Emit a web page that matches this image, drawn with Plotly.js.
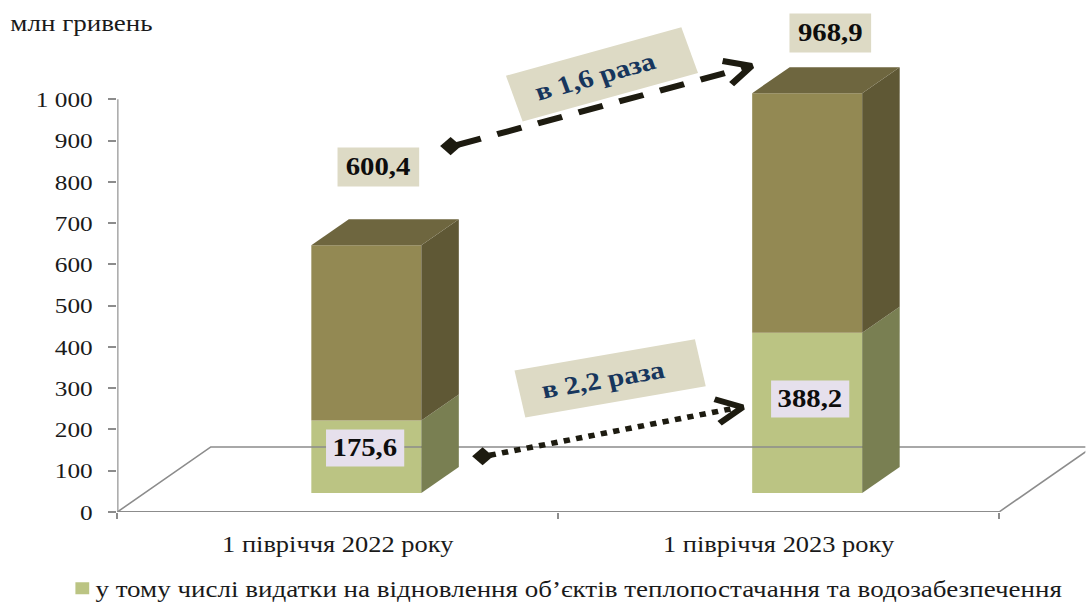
<!DOCTYPE html>
<html>
<head>
<meta charset="utf-8">
<script src="https://cdn.plot.ly/plotly-3.0.1.min.js"></script>
<style>
html,body{margin:0;padding:0;background:#fff;overflow:hidden}
#chart{transform-origin:0 0;}
.legend .legendpoints{transform:translateX(8.6px);}
</style>
</head>
<body>
<div id="chart"></div>
<script>
// ---- data ----
const categories = ['1 півріччя 2022 року', '1 півріччя 2023 року'];
const categoryCenters = [0.5, 1.5];
const recoveryValues = [175.6, 388.2];
const totalValues = [600.4, 968.9];
const valueTickVals = [0, 100, 200, 300, 400, 500, 600, 700, 800, 900, 1000];
const valueTickText = ['0', '100', '200', '300', '400', '500', '600', '700', '800', '900', '1 000'];
const legendLabel = 'у тому числі видатки на відновлення об’єктів теплопостачання та водозабезпечення';
const unitLabel = 'млн гривень';
const ratioTotal = 'в 1,6 раза';
const ratioRecovery = 'в 2,2 раза';

// ---- colours ----
const frontTop = '#938953', sideTop = '#5f5835', roofTop = '#6e663f';
const frontLow = '#bbc483', sideLow = '#797f52';
const axisColor = '#8c8c8c', boxFill = '#dddac5', boxFill2 = '#e6e0ec', arrowColor = '#1d1b10';
const serif = '"Liberation Serif"', textColor = '#1a1a1a';

// ---- layout geometry ----
const stretch = 1.15;                 // the reference picture is stretched sideways
const W = 1086 / stretch, H = 603;
const axisLeftPx = 117.7, axisBottomPx = 511.7, unitPx = 0.4124, catPx = 440.85;
const fx = p => (p - axisLeftPx) / catPx;
const fy = p => (axisBottomPx - p) / unitPx;
const floorDX = 93.5 / catPx, floorDY = 65 / unitPx;
const frontDX = 28.6 / catPx, frontDY = 19 / unitPx;
const barDX = 37.5 / catPx, barDY = 26 / unitPx;
const barW = 110 / catPx;

const chart = document.getElementById('chart');
chart.style.width = W + 'px';
chart.style.height = H + 'px';
chart.style.transform = 'scaleX(' + stretch + ')';

function poly(xs, ys, color) {
  return {type:'scatter', mode:'lines', x:xs.concat(xs[0]), y:ys.concat(ys[0]), fill:'toself',
    fillcolor:color, line:{width:0, color:color}, hoverinfo:'skip', showlegend:false};
}
function line(xs, ys, color, width, dash) {
  return {type:'scatter', mode:'lines', x:xs, y:ys, line:{color:color, width:width, dash:dash||'solid'},
    hoverinfo:'skip', showlegend:false};
}

const traces = [];
// floor outline + axis lines
traces.push(line([0, floorDX, 2 + floorDX], [0, floorDY, floorDY], axisColor, 1.5));
traces.push(line([2, 2 + floorDX], [0, floorDY], axisColor, 1.5));
traces.push(line([0, 2], [0, 0], axisColor, 2));
traces.push(line([0, 0], [0, 1000], axisColor, 2));

// side and roof faces
categoryCenters.forEach((c, i) => {
  const r = c + frontDX + barW / 2, l = c + frontDX - barW / 2;
  const low = recoveryValues[i] + frontDY, top = totalValues[i] + frontDY;
  traces.push(poly([r, r + barDX, r + barDX, r], [frontDY, frontDY + barDY, low + barDY, low], sideLow));
  traces.push(poly([r, r + barDX, r + barDX, r], [low, low + barDY, top + barDY, top], sideTop));
  traces.push(poly([l, r, r + barDX, l + barDX], [top, top, top + barDY, top + barDY], roofTop));
});

// front faces
const barX = categoryCenters.map(c => c + frontDX);
traces.push({type:'bar', name:legendLabel, x:barX, y:recoveryValues, base:barX.map(() => frontDY),
  width:barW, marker:{color:frontLow, line:{width:0}}, hoverinfo:'y', showlegend:true});
traces.push({type:'bar', name:'видатки', x:barX, y:totalValues.map((v, i) => v - recoveryValues[i]),
  base:recoveryValues.map(v => v + frontDY), width:barW, marker:{color:frontTop, line:{width:0}},
  hoverinfo:'y', showlegend:false});

// comparison arrows
traces.push(line([fx(457), fx(750)], [fy(145), fy(66.5)], arrowColor, 6, '22px,15px'));
traces.push(line([fx(723), fx(752), fx(732)], [fy(61), fy(66), fy(84)], arrowColor, 6));
traces.push(line([fx(490), fx(740)], [fy(455), fy(407)], arrowColor, 5.5, '5.5px,5.5px'));
traces.push(line([fx(715), fx(743), fx(720)], [fy(399), fy(407), fy(423)], arrowColor, 6));
traces.push({type:'scatter', mode:'markers', x:[fx(451), fx(483)], y:[fy(146), fy(456)],
  marker:{symbol:'diamond', size:14, color:arrowColor}, hoverinfo:'skip', showlegend:false});

function box(text, cx, cy, w, h, fill, size, color, angle) {
  return {xref:'x', yref:'y', x:fx(cx), y:fy(cy), text:'<b>' + text + '</b>', showarrow:false,
    bgcolor:fill, width:w, height:h, borderpad:0, textangle:angle || 0, xanchor:'center', yanchor:'middle',
    align:'center', valign:'middle', font:{family:serif, size:size, color:color}};
}
const pad = '&nbsp;&nbsp;';   // the ratio labels sit a little left of their box centre
const annotations = [
  box('600,4', 379, 167, 80.4 / stretch, 38, boxFill, 25, '#0d0d0d'),
  box('968,9', 831, 32.5, 80.4 / stretch, 38, boxFill, 25, '#0d0d0d'),
  box('175,6', 365.5, 448, 76.5 / stretch, 36, boxFill2, 25, '#0d0d0d'),
  box('388,2', 810, 399, 76.5 / stretch, 36, boxFill2, 25, '#0d0d0d'),
  box(ratioTotal + pad, 602, 74.5, 159, 47, boxFill, 25.5, '#17365d', -17.6),
  box(ratioRecovery + pad, 610, 378, 159, 47, boxFill, 25.5, '#17365d', -11.3),
  {xref:'paper', yref:'paper', x:(9 - axisLeftPx) / (1086 - axisLeftPx), y:1 - 22.5 / axisBottomPx, text:unitLabel,
    showarrow:false, xanchor:'left', yanchor:'middle', font:{family:serif, size:23.5, color:textColor}}
];

const layout = {
  width:W, height:H,
  margin:{l:axisLeftPx / stretch, r:0, t:0, b:H - axisBottomPx, pad:0, autoexpand:false},
  paper_bgcolor:'#fff', plot_bgcolor:'rgba(0,0,0,0)',
  showlegend:true,
  legend:{xref:'container', yref:'container', x:0.0455, xanchor:'left', y:14.5 / 603, yanchor:'middle',
    bgcolor:'rgba(0,0,0,0)', itemwidth:30, font:{family:serif, size:23.5, color:textColor}},
  xaxis:{range:[0, (1086 - axisLeftPx) / catPx], tickmode:'array', tickvals:categoryCenters, ticktext:categories,
    ticks:'', ticklabelstandoff:16, showgrid:false, zeroline:false, showline:false,
    tickfont:{family:serif, size:23, color:textColor},
    minor:{tickmode:'array', tickvals:[0, 1, 2], ticks:'outside', ticklen:6, tickwidth:2, tickcolor:axisColor, showgrid:false}},
  yaxis:{range:[0, axisBottomPx / unitPx], tickmode:'array', tickvals:valueTickVals, ticktext:valueTickText,
    ticks:'outside', ticklen:7, tickwidth:1.5, tickcolor:axisColor, ticklabelstandoff:9,
    showgrid:false, zeroline:false, showline:false,
    tickfont:{family:serif, size:22, color:textColor}},
  barmode:'overlay',
  annotations:annotations
};
Plotly.newPlot(chart, traces, layout, {displayModeBar:false, responsive:false});
</script>
</body>
</html>
